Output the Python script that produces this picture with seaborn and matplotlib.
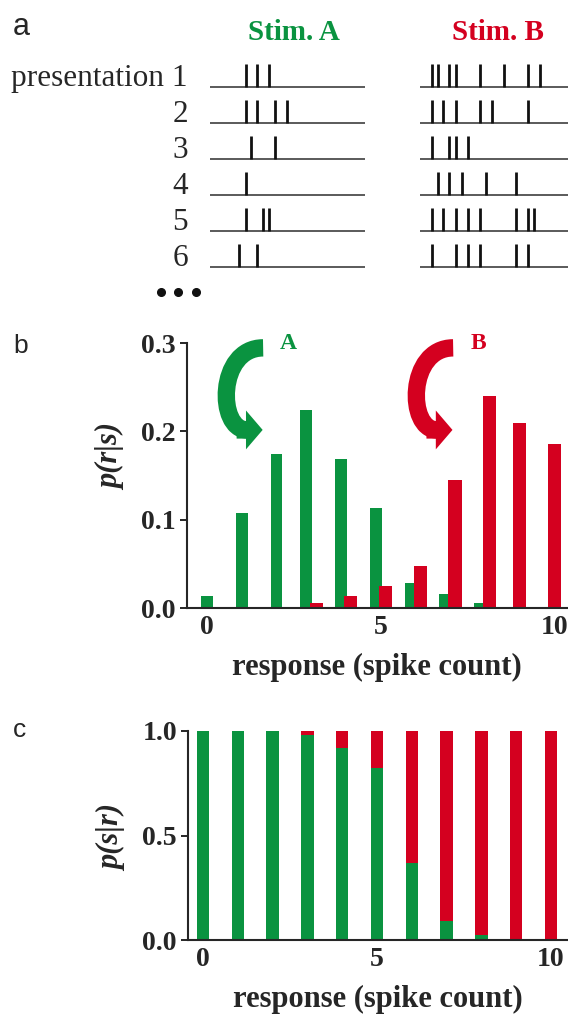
import numpy as np
import matplotlib
matplotlib.use("Agg")
import matplotlib.pyplot as plt
import seaborn as sns
from matplotlib.patches import FancyArrowPatch, PathPatch, ArrowStyle
from matplotlib.path import Path
from matplotlib.lines import Line2D

GREEN = "#0a9340"
RED = "#d4001f"
SERIF = ["Liberation Serif", "DejaVu Serif"]

# panel a: spike times in ms after stimulus onset, one list per presentation
presentations = ["presentation 1", "2", "3", "4", "5", "6"]
spikes_A = [
    [115, 153, 190],
    [115, 153, 211, 249],
    [132, 211],
    [115],
    [115, 172, 191],
    [95, 153],
]
spikes_B = [
    [38, 57, 95, 115, 194, 271, 348, 387],
    [38, 75, 115, 194, 231, 348],
    [38, 95, 115, 154],
    [57, 95, 134, 213, 310],
    [38, 75, 115, 154, 194, 310, 348, 368],
    [38, 115, 154, 194, 310, 348],
]
trial_ms = 500

# panel b: p(r|s), panel c: p(s|r)
spike_count = [0, 1, 2, 3, 4, 5, 6, 7, 8, 9, 10]
p_r_given_A = [0.014, 0.107, 0.174, 0.224, 0.169, 0.113, 0.028, 0.016, 0.006, 0.0, 0.0]
p_r_given_B = [0.0, 0.0, 0.0, 0.006, 0.014, 0.025, 0.048, 0.145, 0.240, 0.209, 0.186]
p_A_given_r = [1.0, 1.0, 1.0, 0.98, 0.92, 0.825, 0.37, 0.092, 0.022, 0.0, 0.0]
p_B_given_r = [0.0, 0.0, 0.0, 0.02, 0.08, 0.175, 0.63, 0.908, 0.978, 1.0, 1.0]

sns.set_theme(style="ticks")
plt.rcParams["font.family"] = SERIF
plt.rcParams["axes.linewidth"] = 1.5

W, H = 568, 1016
fig = plt.figure(figsize=(W / 100, H / 100), dpi=100)


def px_box(left, top, right, bottom):
    return [left / W, 1 - bottom / H, (right - left) / W, (bottom - top) / H]


def raster(ax, trains):
    for row, times in enumerate(trains, start=1):
        ax.hlines(row, 0, trial_ms, color="#5a5a5a", lw=1.4)
        ax.vlines(times, row, row - 0.64, color="#111111", lw=2.0)
    ax.set_xlim(0, trial_ms)
    # rows 36 px apart, first baseline 32 px below the axes top
    ax.set_ylim(1 + (300 - 87) / 36, 1 - (87 - 55) / 36)
    ax.axis("off")


# ---- panel a
ax_A = fig.add_axes(px_box(210, 55, 365, 300))
ax_B = fig.add_axes(px_box(420, 55, 575, 300))
raster(ax_A, spikes_A)
raster(ax_B, spikes_B)
for row, label in enumerate(presentations, start=1):
    ax_A.annotate(label, xy=(0, row), xytext=(-16, 1), textcoords="offset points",
                  ha="right", va="baseline", fontsize=22.5, annotation_clip=False)
fig.text(294 / W, 1 - 40 / H, "Stim. A", ha="center", va="baseline",
         fontsize=21, fontweight="bold", color=GREEN)
fig.text(498 / W, 1 - 40 / H, "Stim. B", ha="center", va="baseline",
         fontsize=21, fontweight="bold", color=RED)
# "more presentations" dots
fig.add_artist(Line2D(np.array([161, 178, 196]) / W, [1 - 292 / H] * 3, ls="none",
                      marker="o", ms=5.5, color="#111111"))


def style_axes(ax, xlim, ymax, yticks, ylabel, label_y):
    ax.set_xlim(*xlim)
    ax.set_ylim(0, ymax)
    ax.set_xticks([0, 5, 10], ["0", "5", "10"], fontweight="bold")
    ax.set_yticks(yticks, [f"{t:.1f}" for t in yticks], fontweight="bold")
    ax.tick_params(axis="y", length=5, width=1.4, pad=3, labelsize=20)
    ax.tick_params(axis="x", length=0, pad=5, labelsize=20)
    ax.set_xlabel("response (spike count)", fontsize=22, fontweight="bold", labelpad=9)
    ax.set_ylabel(ylabel, fontsize=22, fontweight="bold", fontstyle="italic")
    ax.yaxis.set_label_coords(-0.16, label_y)
    sns.despine(ax=ax)


# ---- panel b
ax_b = fig.add_axes(px_box(187, 343, 567, 608))
both = (np.array(p_r_given_A) > 0) & (np.array(p_r_given_B) > 0)
pos_A = np.array(spike_count) - 0.14 * both
pos_B = np.array(spike_count) + 0.14 * both
for pos, vals, color, w in [(pos_A, p_r_given_A, GREEN, 0.34), (pos_B, p_r_given_B, RED, 0.38)]:
    step = np.diff(np.unique(pos)).min()
    sns.barplot(x=pos, y=vals, native_scale=True, orient="x", width=w / step,
                color=color, saturation=1, errorbar=None, linewidth=0, ax=ax_b)
style_axes(ax_b, (-0.58, 10.37), 0.3, [0.0, 0.1, 0.2, 0.3], "p(r|s)", 0.57)

# C-shaped arrows pointing at each distribution: (start x, bend x, shaft end x, tip x)
arrow_specs = [((1.614, 0.288, 1.15, 1.60), GREEN, "A", 2.33),
               ((7.09, 5.765, 6.62, 7.07), RED, "B", 7.81)]
for (sx, bx, ex, tx_tip), color, name, tx in arrow_specs:
    y_top, y_low = 0.2945, 0.2016
    shaft = Path([(sx, y_top), (bx, y_top), (bx, y_low), (ex, y_low)],
                 [Path.MOVETO, Path.CURVE4, Path.CURVE4, Path.CURVE4])
    ax_b.add_patch(PathPatch(shaft, fill=False, edgecolor=color, lw=12.5,
                             capstyle="butt", joinstyle="round", clip_on=False))
    head = FancyArrowPatch((ex - 0.3, y_low), (tx_tip, y_low),
                           arrowstyle=ArrowStyle.Simple(head_length=12, head_width=28, tail_width=12.5),
                           color=color, lw=0, shrinkA=0, shrinkB=0, clip_on=False)
    ax_b.add_patch(head)
    ax_b.text(tx, 0.299, name, ha="center", va="center", fontsize=17,
              fontweight="bold", color=color, clip_on=False)

# ---- panel c
ax_c = fig.add_axes(px_box(188, 731, 567, 940))
sns.barplot(x=spike_count, y=np.add(p_A_given_r, p_B_given_r), color=RED,
            saturation=1, width=0.36, errorbar=None, linewidth=0, ax=ax_c)
sns.barplot(x=spike_count, y=p_A_given_r, color=GREEN,
            saturation=1, width=0.36, errorbar=None, linewidth=0, ax=ax_c)
style_axes(ax_c, (-0.43, 10.46), 1.0, [0.0, 0.5, 1.0], "p(s|r)", 0.49)

for letter, x, y, size in [("a", 13, 35, 22), ("b", 13, 353, 19), ("c", 13, 737, 19)]:
    fig.text(x / W, 1 - y / H, letter, ha="left", va="baseline",
             fontsize=size, family="Liberation Sans")

fig.savefig("out.png", dpi=100)
